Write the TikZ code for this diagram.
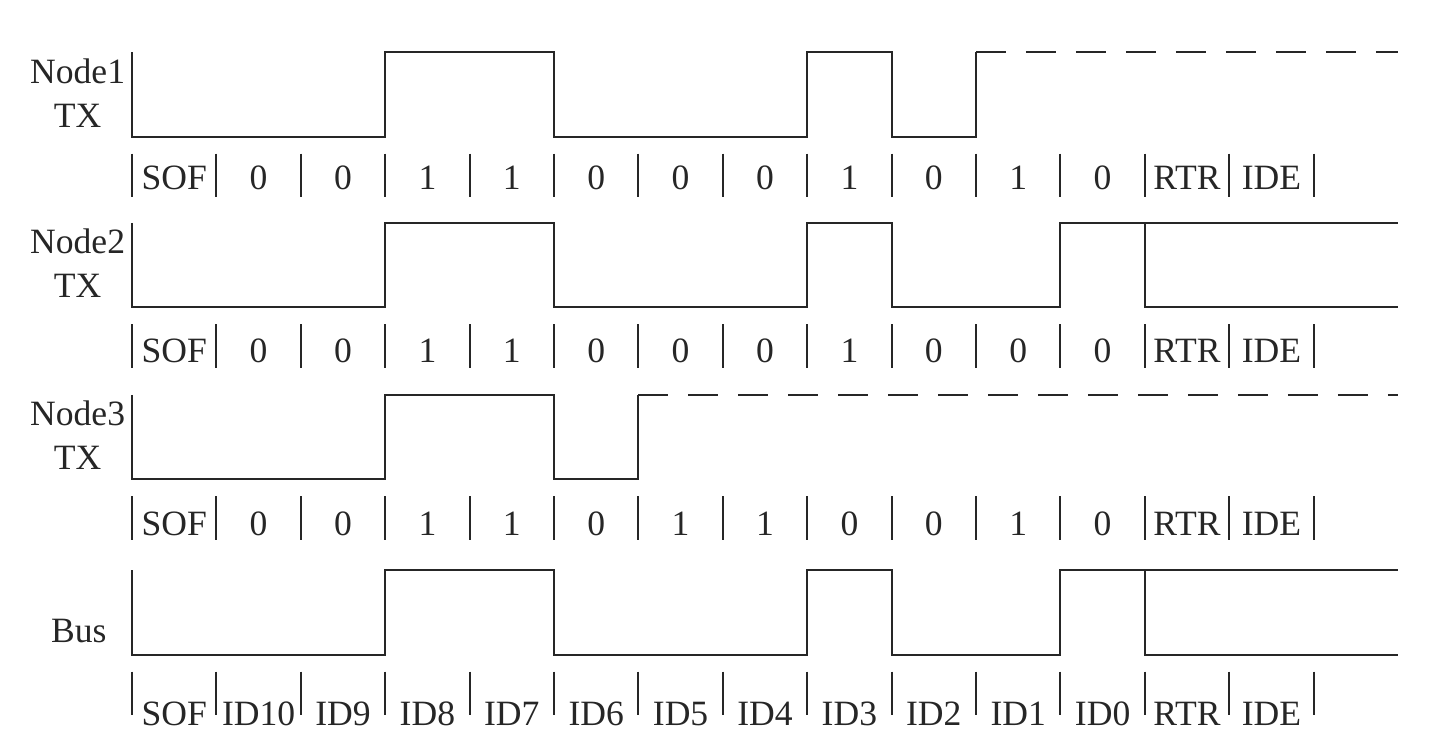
\documentclass[tikz,border=0pt]{standalone}
\usepackage{fontspec}
\setmainfont{Liberation Serif}
\begin{document}
\begin{tikzpicture}[line width=0.7pt, draw=black!85, text=black!85,
    font=\fontsize{12}{14.8}\selectfont,
    recessive/.style={dash pattern=on 0.355cm off 0.237cm},
    sig/.style={inner sep=0pt, align=center, anchor=east},
    bit/.style={inner sep=0pt, anchor=base}]
    \useasboundingbox (-1.564,-8.863) rectangle (15.379,0);
    \begin{scope}[shift={(0,-1.620)}]
        \node[sig] (node1) at (-0.07,0.52) {Node1\\TX};
        \draw (0,1)--(0,0)--(3,0)--(3,1)--(5,1)--(5,0)--(8,0)--(8,1)--(9,1)--(9,0)--(10,0)--(10,1);
        \draw[recessive] (10,1)--(15,1);
        \foreach \i in {0,...,14} \draw (\i,-0.2)--(\i,-0.72);
        \foreach \b [count=\i from 0] in {SOF,0,0,1,1,0,0,0,1,0,1,0,RTR,IDE}
            \node[bit] (a\i) at (\i+0.5,-0.63) {\b};
    \end{scope}
    \begin{scope}[shift={(0,-3.641)}]
        \node[sig] (node2) at (-0.07,0.52) {Node2\\TX};
        \draw (0,1)--(0,0)--(3,0)--(3,1)--(5,1)--(5,0)--(8,0)--(8,1)--(9,1)--(9,0)--(11,0)--(11,1)--(15,1);
        \draw (12,1)--(12,0)--(15,0);
        \foreach \i in {0,...,14} \draw (\i,-0.2)--(\i,-0.72);
        \foreach \b [count=\i from 0] in {SOF,0,0,1,1,0,0,0,1,0,0,0,RTR,IDE}
            \node[bit] (b\i) at (\i+0.5,-0.65) {\b};
    \end{scope}
    \begin{scope}[shift={(0,-5.679)}]
        \node[sig] (node3) at (-0.07,0.52) {Node3\\TX};
        \draw (0,1)--(0,0)--(3,0)--(3,1)--(5,1)--(5,0)--(6,0)--(6,1);
        \draw[recessive] (6,1)--(15,1);
        \foreach \i in {0,...,14} \draw (\i,-0.2)--(\i,-0.72);
        \foreach \b [count=\i from 0] in {SOF,0,0,1,1,0,1,1,0,0,1,0,RTR,IDE}
            \node[bit] (c\i) at (\i+0.5,-0.66) {\b};
    \end{scope}
    \begin{scope}[shift={(0,-7.757)}]
        \node[inner sep=0pt, anchor=base east] (bus) at (-0.29,0.14) {Bus};
        \draw (0,1)--(0,0)--(3,0)--(3,1)--(5,1)--(5,0)--(8,0)--(8,1)--(9,1)--(9,0)--(11,0)--(11,1)--(15,1);
        \draw (12,1)--(12,0)--(15,0);
        \foreach \i in {0,...,14} \draw (\i,-0.2)--(\i,-0.72);
        \foreach \b [count=\i from 0] in {SOF,ID10,ID9,ID8,ID7,ID6,ID5,ID4,ID3,ID2,ID1,ID0,RTR,IDE}
            \node[bit] (d\i) at (\i+0.5,-0.84) {\b};
    \end{scope}
\end{tikzpicture}
\end{document}
